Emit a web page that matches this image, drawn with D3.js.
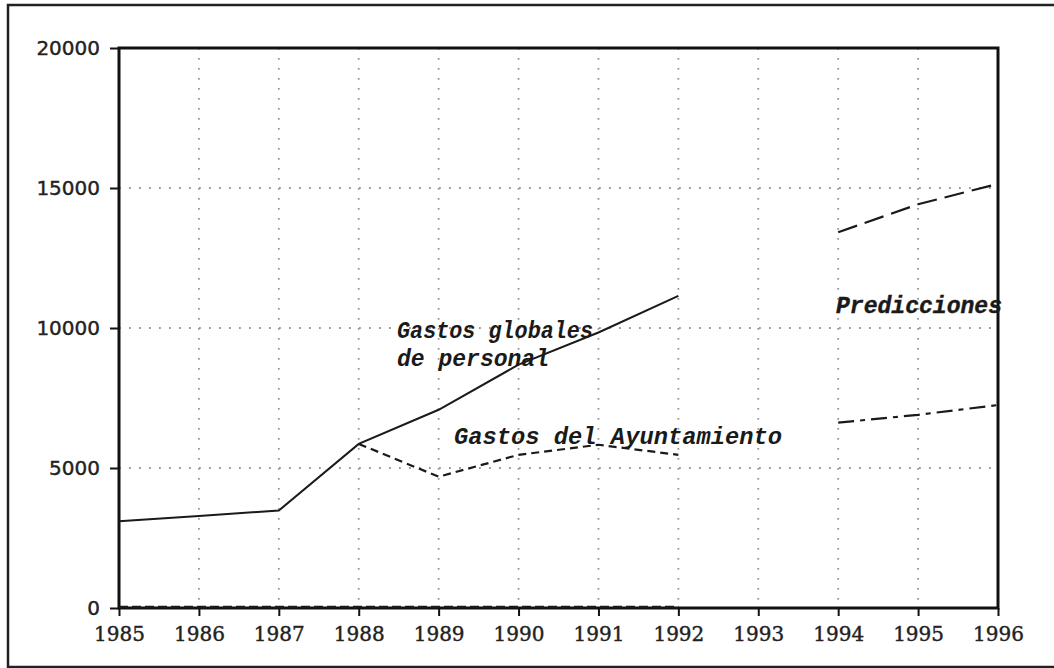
<!DOCTYPE html>
<html><head><meta charset="utf-8">
<script src="https://cdn.jsdelivr.net/npm/d3@7"></script>
<style>body{margin:0;background:#fff}svg{display:block}</style>
</head><body>
<svg id="c" width="1054" height="668"></svg>
<script>
const years = [1985,1986,1987,1988,1989,1990,1991,1992,1993,1994,1995,1996];
const yTicks = [0,5000,10000,15000,20000];
const globalYears = [1985,1986,1987,1988,1989,1990,1991,1992];
const globalVals  = [3100,3290,3480,5860,7080,8690,9840,11150];
const ayuntYears  = [1988,1989,1990,1991,1992];
const ayuntVals   = [5860,4690,5470,5830,5470];
const baseYears   = [1985,1986,1987,1988,1989,1990,1991,1992];
const baseVals    = [40,40,40,40,40,40,40,40];
const predHiYears = [1994,1995,1996];
const predHiVals  = [13420,14420,15150];
const predLoYears = [1994,1995,1996];
const predLoVals  = [6620,6900,7250];

const svg = d3.select("#c");
const L=119, R=998, T=48, B=608;
const x = d3.scaleLinear().domain([1985,1996]).range([L,R]);
const y = d3.scaleLinear().domain([0,20000]).range([B,T]);

// outer frame
svg.append("rect").attr("x",8).attr("y",5).attr("width",1070).attr("height",662)
  .attr("fill","none").attr("stroke","#222").attr("stroke-width",2.5);

// grid
const g = svg.append("g");
g.selectAll(".vg").data(years.slice(1,-1)).join("line")
  .attr("x1",d=>x(d)).attr("x2",d=>x(d)).attr("y1",T).attr("y2",B)
  .attr("stroke","#999").attr("stroke-width",1.8).attr("stroke-dasharray","1.8,8.2");
g.selectAll(".hg").data(yTicks.slice(1,-1)).join("line")
  .attr("x1",L).attr("x2",R).attr("y1",d=>y(d)).attr("y2",d=>y(d))
  .attr("stroke","#999").attr("stroke-width",1.8).attr("stroke-dasharray","1.8,8.2");

// axes
const xa = svg.append("g").attr("transform",`translate(0,${B})`)
  .call(d3.axisBottom(x).tickValues(years).tickFormat(d3.format("d")).tickSize(8).tickPadding(11));
xa.select(".domain").remove();
xa.selectAll("line").attr("stroke","#111").attr("stroke-width",2);
xa.selectAll("text").attr("font-family","DejaVu Serif").attr("font-size",20).attr("fill","#222")
  .attr("stroke","#222").attr("stroke-width",0.4);

const ya = svg.append("g").attr("transform",`translate(${L},0)`)
  .call(d3.axisLeft(y).tickValues(yTicks).tickFormat(d3.format("d")).tickSize(9).tickPadding(10));
ya.select(".domain").remove();
ya.selectAll("line").attr("stroke","#111").attr("stroke-width",2);
ya.selectAll("text").attr("font-family","DejaVu Sans").attr("font-size",20).attr("fill","#222")
  .attr("stroke","#222").attr("stroke-width",0.4);

// plot frame
svg.append("rect").attr("x",L).attr("y",T).attr("width",R-L).attr("height",B-T)
  .attr("fill","none").attr("stroke","#111").attr("stroke-width",3);

const line = d3.line().x(d=>x(d[0])).y(d=>y(d[1]));
function series(ys, vs, dash, w){
  svg.append("path").datum(ys.map((yr,i)=>[yr,vs[i]])).attr("d",line)
    .attr("fill","none").attr("stroke","#1a1a1a").attr("stroke-width",w)
    .attr("stroke-dasharray",dash);
}
series(globalYears, globalVals, null, 2);
series(ayuntYears, ayuntVals, "8,5", 2.2);
series(baseYears, baseVals, "9,4", 2.5);
series(predHiYears, predHiVals, "20,8", 2.2);
series(predLoYears, predLoVals, "16,6,5,6", 2.2);

// labels
function label(t, px, py, size, w, len, sw){
  svg.append("text").attr("x",px).attr("y",py).text(t)
    .attr("font-family","Liberation Mono").attr("font-style","italic")
    .attr("font-weight",w).attr("font-size",size).attr("fill","#1a1a1a")
    .attr("stroke","#1a1a1a").attr("stroke-width",sw)
    .attr("textLength",len).attr("lengthAdjust","spacingAndGlyphs");
}
label("Gastos globales", 397, 338, 23, "bold", 196, 0);
label("de personal", 397, 366, 23, "bold", 152, 0);
label("Gastos del Ayuntamiento", 454, 444, 23, "bold", 328, 0);
label("Predicciones", 836, 313, 23, "bold", 166, 0.4);
</script>
</body></html>
